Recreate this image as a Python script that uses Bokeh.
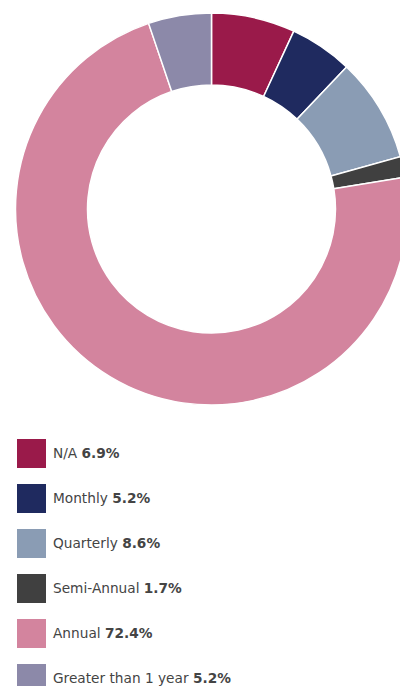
import math
from bokeh.plotting import figure
from bokeh.models import Range1d, ColumnDataSource, Div
from bokeh.layouts import column
from bokeh.embed import file_html
from bokeh.resources import INLINE

categories = ["N/A", "Monthly", "Quarterly", "Semi-Annual", "Annual", "Greater than 1 year"]
values = [6.9, 5.2, 8.6, 1.7, 72.4, 5.2]
colors = ["#9a1a4a", "#1f2a5f", "#8a9cb4", "#404040", "#d3849e", "#8c89a9"]

total = sum(values)
starts, ends = [], []
cum = 0.0
for v in values:
    starts.append(math.pi / 2 - 2 * math.pi * cum / total)
    cum += v
    ends.append(math.pi / 2 - 2 * math.pi * cum / total)

src = ColumnDataSource(dict(cat=categories, val=values, color=colors, start=starts, end=ends))

W, H = 400, 428
p = figure(width=W, height=H, output_backend="svg", toolbar_location=None,
           x_range=Range1d(0, W), y_range=Range1d(0, H), min_border=0,
           tools="")
p.axis.visible = False
p.grid.visible = False
p.outline_line_color = None
p.background_fill_color = "white"
p.border_fill_color = "white"

cx, cy = 211, H - 208.5
p.annular_wedge(x=cx, y=cy, inner_radius=124, outer_radius=196,
                inner_radius_units="screen", outer_radius_units="screen",
                start_angle="start", end_angle="end", direction="clock",
                fill_color="color", line_color="white", line_width=1.5, source=src)

rows = []
for c, v, col in zip(categories, values, colors):
    rows.append(
        f'<div style="display:flex;align-items:center;height:29px;margin-bottom:16px;">'
        f'<span style="display:inline-block;width:29px;height:29px;background:{col};margin-right:7px;"></span>'
        f'<span style="font-family:\'DejaVu Sans\';font-size:13.7px;color:#444;white-space:nowrap;">{c} <b>{v}%</b></span>'
        f'</div>'
    )
legend_html = '<div style="padding-top:11px;padding-left:17px;">' + "".join(rows) + '</div>'
legend = Div(text=legend_html, width=W, height=686 - H, margin=(0, 0, 0, 0))

layout = column(p, legend, spacing=0)
open("out.html", "w").write(file_html(layout, INLINE))
